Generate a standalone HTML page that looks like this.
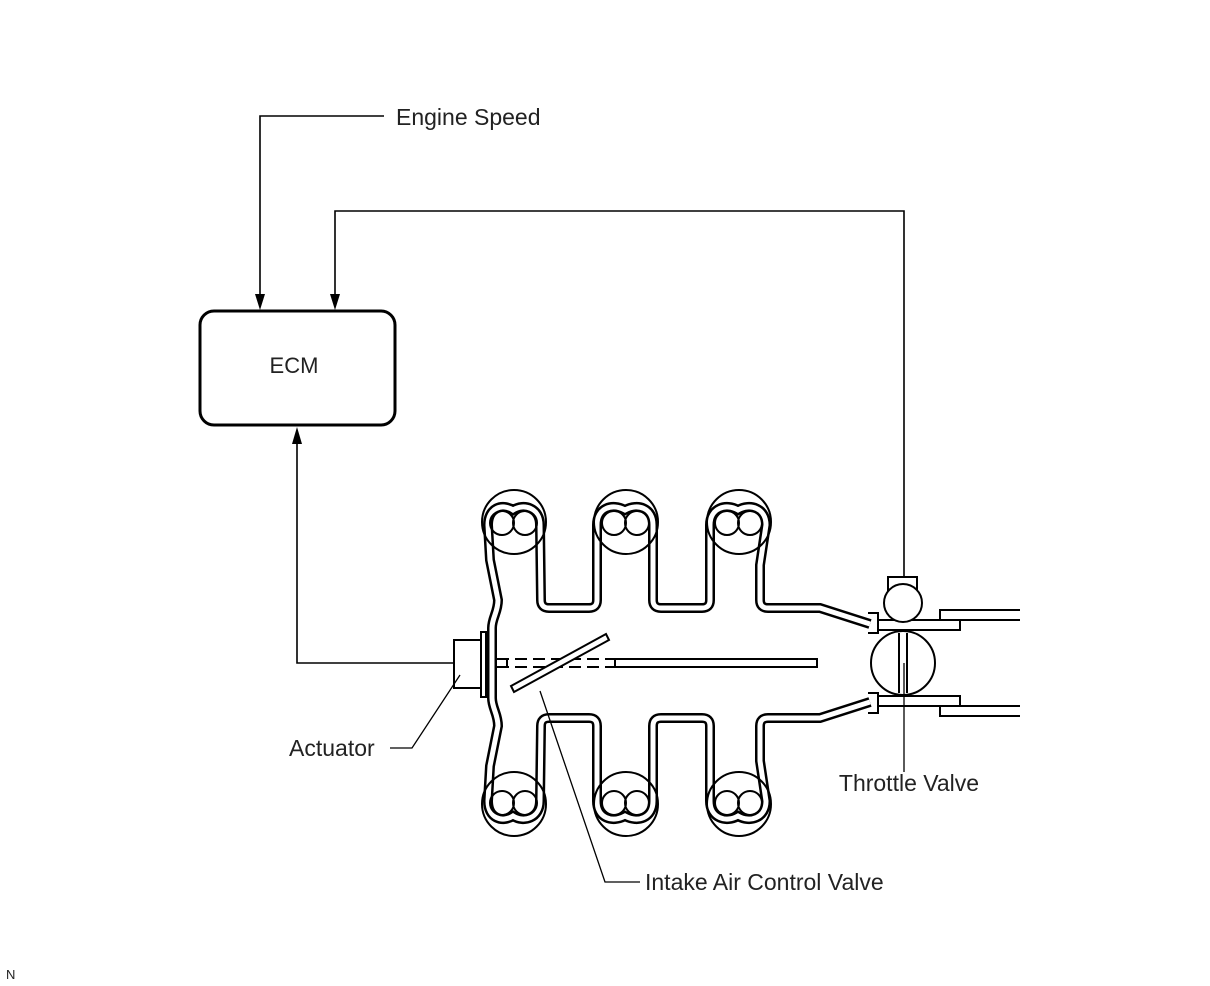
<!DOCTYPE html>
<html><head><meta charset="utf-8"><style>
html,body{margin:0;padding:0;background:#fff;}
svg{display:block;}
text{font-family:"Liberation Sans",sans-serif;fill:#222;}
</style></head><body>
<svg width="1210" height="986" viewBox="0 0 1210 986" xmlns="http://www.w3.org/2000/svg">
<g fill="none" stroke="#000" stroke-width="1.6">
<path d="M384,116 H260 V300"/>
<path d="M904,578 V211 H335 V300"/>
<path d="M454,663 H297 V440"/>
</g>
<g fill="#000" stroke="none">
<path d="M255,294 L265,294 L260,310 z"/>
<path d="M330,294 L340,294 L335,310 z"/>
<path d="M297,427 L292,444 L302,444 z"/>
</g>
<rect x="200" y="311" width="195" height="114" rx="14" fill="#fff" stroke="#000" stroke-width="3"/>
<text x="294" y="373" font-size="22" text-anchor="middle">ECM</text>
<text x="396" y="125" font-size="23">Engine Speed</text>

<g id="half">
<path d="M492,665 L492,628 C492,618 498,612 498,600 L490,560 L488,525 C488,508 502,503 513,510 C524,503 540,508 540,525 L541,600 Q541,608 549,608 L589,608 Q597,608 597,600 L597,525 C597,508 612,503 625,510 C638,503 653,508 653,525 L653,600 Q653,608 661,608 L702,608 Q710,608 710,600 L710,525 C710,508 726,503 738,510 C750,503 766,508 766,525 L760,565 L760,600 Q760,608 768,608 L820,608 L870,624" fill="none" stroke="#000" stroke-width="10"/>
<path d="M492,665 L492,628 C492,618 498,612 498,600 L490,560 L488,525 C488,508 502,503 513,510 C524,503 540,508 540,525 L541,600 Q541,608 549,608 L589,608 Q597,608 597,600 L597,525 C597,508 612,503 625,510 C638,503 653,508 653,525 L653,600 Q653,608 661,608 L702,608 Q710,608 710,600 L710,525 C710,508 726,503 738,510 C750,503 766,508 766,525 L760,565 L760,600 Q760,608 768,608 L820,608 L870,624" fill="none" stroke="#fff" stroke-width="5"/>
<g fill="none" stroke="#000" stroke-width="2">
<circle cx="514" cy="522" r="32"/><circle cx="502" cy="523" r="12"/><circle cx="525" cy="523" r="12"/>
<circle cx="626" cy="522" r="32"/><circle cx="614" cy="523" r="12"/><circle cx="637" cy="523" r="12"/>
<circle cx="739" cy="522" r="32"/><circle cx="727" cy="523" r="12"/><circle cx="750" cy="523" r="12"/>
<path d="M868,613 H878 V633 H868"/>
<path d="M878,620 H960 V630 H878"/>
<path d="M940,620 V610 H1020 M960,620 H1020"/>
</g>
</g>
<use href="#half" transform="translate(0,1326) scale(1,-1)"/>

<g fill="none" stroke="#000" stroke-width="2">
<rect x="888" y="577" width="29" height="13" fill="#fff"/>
<circle cx="903" cy="603" r="19" fill="#fff"/>
<circle cx="903" cy="663" r="32" fill="#fff"/>
<path d="M899,633 V693 M907,633 V693"/>
<rect x="454" y="640" width="27" height="48" fill="#fff"/>
<rect x="481" y="632" width="5" height="65" fill="#fff"/>
<rect x="615" y="659" width="202" height="8" fill="#fff"/>
<path d="M497,659 H615 M497,667 H615" stroke-dasharray="12,6"/>
<path d="M507,660 V667"/>
<path d="M511,686 L606,634 L609,640 L514,692 z" fill="#fff"/>
</g>
<g fill="none" stroke="#000" stroke-width="1.3">
<path d="M390,748 H412 L460,675"/>
<path d="M540,691 L605,882 H640"/>
<path d="M904,663 V772"/>
</g>
<text x="289" y="756" font-size="23">Actuator</text>
<text x="645" y="890" font-size="23">Intake Air Control Valve</text>
<text x="909" y="791" font-size="23" text-anchor="middle">Throttle Valve</text>
<text x="6" y="979" font-size="13">N</text>
</svg>
</body></html>
